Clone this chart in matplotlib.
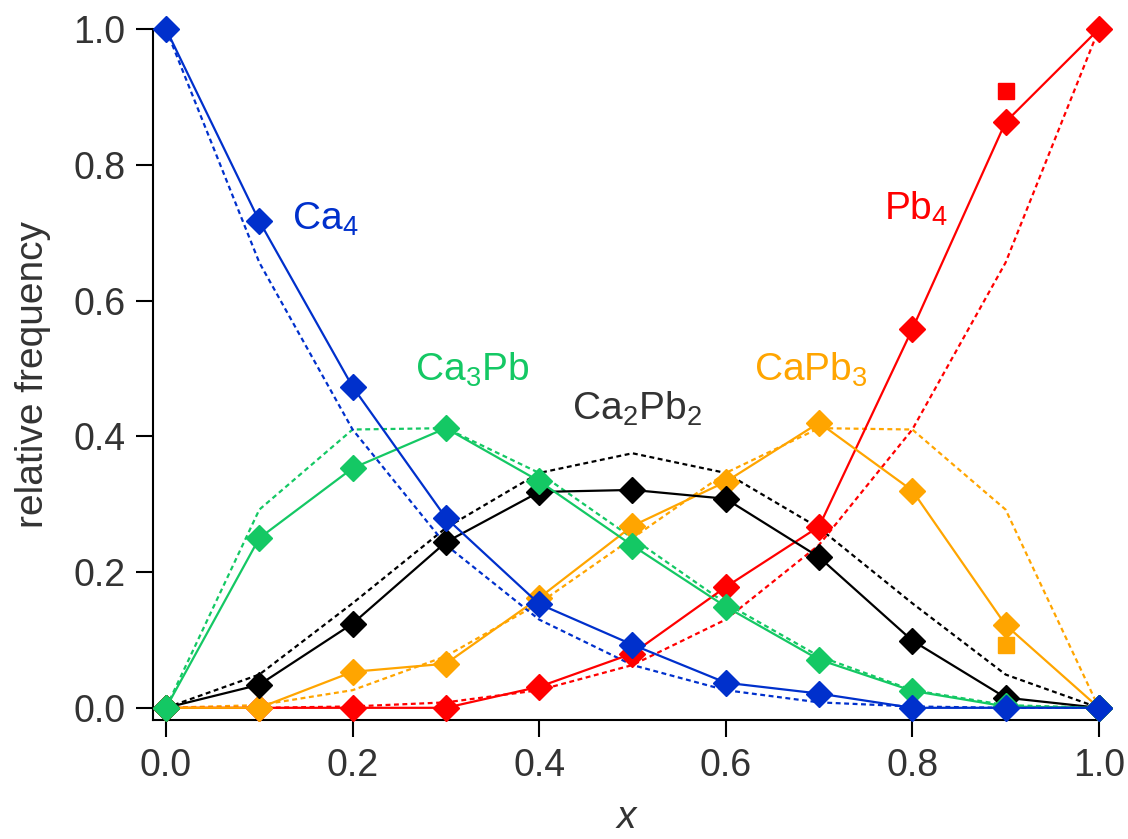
import matplotlib
matplotlib.use("Agg")
import matplotlib.pyplot as plt

plt.rcParams['font.family'] = ['Liberation Sans', 'DejaVu Sans']
plt.rcParams['mathtext.fontset'] = 'custom'
plt.rcParams['mathtext.rm'] = 'Liberation Sans'
plt.rcParams['mathtext.it'] = 'Liberation Sans:italic'

x = [0.0, 0.1, 0.2, 0.3, 0.4, 0.5, 0.6, 0.7, 0.8, 0.9, 1.0]

# measured frequencies (solid lines with diamonds)
ca4_obs = [1.000, 0.717, 0.473, 0.280, 0.153, 0.093, 0.037, 0.021, 0.000, 0.000, 0.000]
ca3pb_obs = [0.000, 0.250, 0.353, 0.412, 0.334, 0.239, 0.149, 0.071, 0.025, 0.002, 0.000]
ca2pb2_obs = [0.000, 0.034, 0.124, 0.244, 0.318, 0.321, 0.308, 0.222, 0.099, 0.015, 0.000]
capb3_obs = [0.000, 0.000, 0.053, 0.065, 0.162, 0.268, 0.333, 0.420, 0.320, 0.122, 0.000]
pb4_obs = [0.000, 0.000, 0.000, 0.000, 0.031, 0.080, 0.178, 0.267, 0.558, 0.863, 1.000]

# random-distribution reference (dotted lines)
ca4_rand = [1.000, 0.656, 0.410, 0.240, 0.130, 0.063, 0.026, 0.008, 0.002, 0.000, 0.000]
ca3pb_rand = [0.000, 0.292, 0.410, 0.412, 0.346, 0.250, 0.154, 0.076, 0.026, 0.004, 0.000]
ca2pb2_rand = [0.000, 0.049, 0.154, 0.265, 0.346, 0.375, 0.346, 0.265, 0.154, 0.049, 0.000]
capb3_rand = [0.000, 0.004, 0.026, 0.076, 0.154, 0.250, 0.346, 0.412, 0.410, 0.292, 0.000]
pb4_rand = [0.000, 0.000, 0.002, 0.008, 0.026, 0.063, 0.130, 0.240, 0.410, 0.656, 1.000]

# extra square points at x = 0.9
sq_x = [0.9]
pb4_sq = [0.909]
capb3_sq = [0.093]

labels = [r'Pb$_4$', r'CaPb$_3$', r'Ca$_2$Pb$_2$', r'Ca$_3$Pb', r'Ca$_4$']
colors = ['#ff0000', '#ffa500', '#000000', '#14c864', '#0030cc']
label_colors = ['#ff0000', '#ffa500', '#333333', '#14c864', '#0030cc']
label_pos = [(0.770, 0.735), (0.630, 0.498), (0.435, 0.44), (0.267, 0.498), (0.135, 0.72)]

obs = [pb4_obs, capb3_obs, ca2pb2_obs, ca3pb_obs, ca4_obs]
rand = [pb4_rand, capb3_rand, ca2pb2_rand, ca3pb_rand, ca4_rand]

fig = plt.figure(figsize=(11.28, 8.39), dpi=100)
ax = fig.add_axes([0.1356, 0.1418, 0.8386, 0.8236])

for yo, yr, c in zip(obs, rand, colors):
    ax.plot(x, yr, color=c, lw=1.6, ls=(0, (2.2, 1.6)), clip_on=False, zorder=2)
for yo, yr, c in zip(obs, rand, colors):
    ax.plot(x, yo, color=c, lw=1.6, marker='D', ms=13, mec=c, mfc=c,
            clip_on=False, zorder=3)

ax.plot(sq_x, pb4_sq, 's', color='#ff0000', ms=12, clip_on=False, zorder=4)
ax.plot(sq_x, capb3_sq, 's', color='#ffa500', ms=12, clip_on=False, zorder=4)

for lab, c, (lx, ly) in zip(labels, label_colors, label_pos):
    ax.text(lx, ly, lab, color=c, fontsize=28, ha='left', va='center')

ax.set_xlim(-0.014, 1.0)
ax.set_ylim(-0.018, 1.0)
ax.set_xticks([0.0, 0.2, 0.4, 0.6, 0.8, 1.0])
ax.set_yticks([0.0, 0.2, 0.4, 0.6, 0.8, 1.0])
ax.set_xticklabels(['0.0', '0.2', '0.4', '0.6', '0.8', '1.0'])
ax.set_yticklabels(['0.0', '0.2', '0.4', '0.6', '0.8', '1.0'])
ax.tick_params(direction='out', length=12, width=1.5, labelsize=27,
               labelcolor='#333333', pad=8)
for side in ['top', 'right']:
    ax.spines[side].set_visible(False)
for side in ['left', 'bottom']:
    ax.spines[side].set_linewidth(1.5)

ax.set_ylabel('relative frequency', fontsize=28, color='#333333', labelpad=16)
ax.set_xlabel('x', fontsize=28, color='#333333', style='italic', labelpad=12)

fig.savefig('out.png', dpi=100)
